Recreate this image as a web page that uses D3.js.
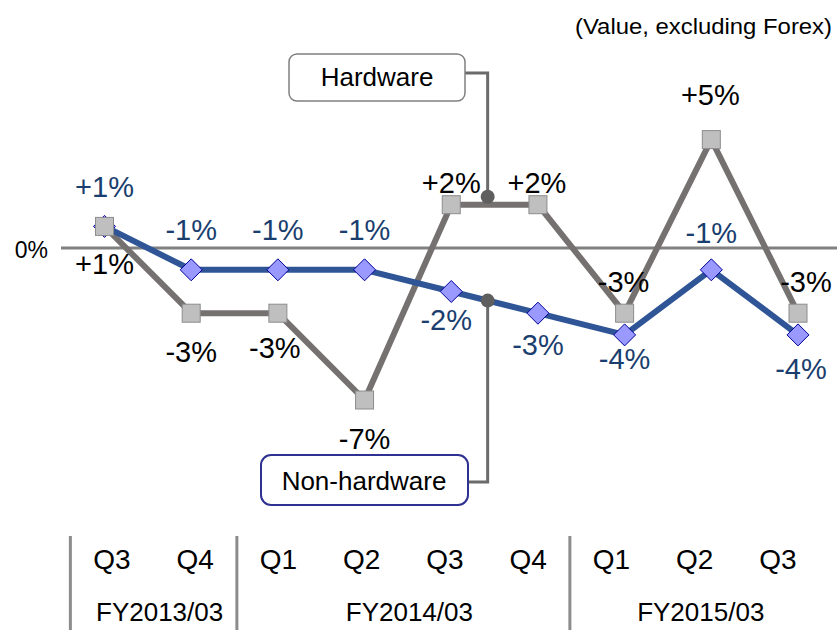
<!DOCTYPE html>
<html>
<head>
<meta charset="utf-8">
<script src="https://cdn.jsdelivr.net/npm/d3@7"></script>
<style>
  body { margin: 0; background: #fff; }
  text { font-family: "Liberation Sans", Arial, sans-serif; }
</style>
</head>
<body>
<div id="chart"></div>
<script>
// data
var quarters = ["Q3", "Q4", "Q1", "Q2", "Q3 ", "Q4 ", "Q1 ", "Q2 ", "Q3  "];
var fiscalYears = ["FY2013/03", "FY2014/03", "FY2015/03"];
var yearQuarterCount = [2, 4, 3];
var hardware = [1, -3, -3, -7, 2, 2, -3, 5, -3];
var nonHardware = [1, -1, -1, -1, -2, -3, -4, -1, -4];

var width = 837, height = 630;

var svg = d3.select("#chart")
  .append("svg")
    .attr("width", width)
    .attr("height", height);

// scales
var x = d3.scalePoint()
  .domain(quarters)
  .range([104.5, 798]);

var y = d3.scaleLinear()
  .domain([-7, 5])
  .range([400, 139.6]);

// axis labels sit on their own spacing under the plot
var xAxisPos = d3.scalePoint()
  .domain(quarters)
  .range([112, 778]);

function pct(v) { return (v > 0 ? "+" : "") + v + "%"; }

// note top right
svg.append("text")
  .attr("x", 832)
  .attr("y", 34)
  .attr("text-anchor", "end")
  .attr("textLength", 257)
  .attr("lengthAdjust", "spacingAndGlyphs")
  .style("font-size", "22px")
  .text("(Value, excluding Forex)");

// zero line
svg.append("line")
  .attr("x1", 61).attr("x2", width)
  .attr("y1", y(0)).attr("y2", y(0))
  .attr("stroke", "#808080")
  .attr("stroke-width", 3);

svg.append("text")
  .attr("x", 48)
  .attr("y", y(0) + 10)
  .attr("text-anchor", "end")
  .style("font-size", "23px")
  .text("0%");

// callout connectors
var step = x.step();
var hwDot = { x: x(quarters[4]) + step * 0.42, y: y(2) - 8 };
var nhDot = { x: x(quarters[4]) + step * 0.42 };
nhDot.y = y(nonHardware[4]) + (y(nonHardware[5]) - y(nonHardware[4])) * 0.42;

svg.append("path")
  .attr("d", "M464," + 73 + "H" + hwDot.x + "V" + hwDot.y)
  .attr("fill", "none")
  .attr("stroke", "#6b6b6b")
  .attr("stroke-width", 3);

svg.append("path")
  .attr("d", "M468," + 482 + "H" + nhDot.x + "V" + nhDot.y)
  .attr("fill", "none")
  .attr("stroke", "#6b6b6b")
  .attr("stroke-width", 3);

// callout boxes
svg.append("rect")
  .attr("x", 289).attr("y", 54)
  .attr("width", 176).attr("height", 47)
  .attr("rx", 8)
  .attr("fill", "#fff")
  .attr("stroke", "#808080")
  .attr("stroke-width", 1.5);
svg.append("text")
  .attr("x", 377).attr("y", 86)
  .attr("text-anchor", "middle")
  .style("font-size", "26px")
  .text("Hardware");

svg.append("rect")
  .attr("x", 261).attr("y", 455)
  .attr("width", 207).attr("height", 50)
  .attr("rx", 10)
  .attr("fill", "#fff")
  .attr("stroke", "#2e3192")
  .attr("stroke-width", 2);
svg.append("text")
  .attr("x", 364).attr("y", 490)
  .attr("text-anchor", "middle")
  .style("font-size", "26px")
  .text("Non-hardware");

// lines
var line = d3.line()
  .x(function(d, i) { return x(quarters[i]); })
  .y(function(d) { return y(d); });

svg.append("path")
  .datum(hardware)
  .attr("d", line)
  .attr("fill", "none")
  .attr("stroke", "#767171")
  .attr("stroke-width", 6)
  .attr("stroke-linejoin", "round");

svg.append("path")
  .datum(nonHardware)
  .attr("d", line)
  .attr("fill", "none")
  .attr("stroke", "#2f5597")
  .attr("stroke-width", 6)
  .attr("stroke-linejoin", "round");

// markers
svg.selectAll(".diamond")
  .data(nonHardware)
  .enter()
  .append("path")
    .attr("class", "diamond")
    .attr("transform", function(d, i) { return "translate(" + x(quarters[i]) + "," + y(d) + ")"; })
    .attr("d", "M0,-11L11,0L0,11L-11,0Z")
    .attr("fill", "#9999ff")
    .attr("stroke", "#000099")
    .attr("stroke-width", 1);

svg.selectAll(".square")
  .data(hardware)
  .enter()
  .append("rect")
    .attr("class", "square")
    .attr("x", function(d, i) { return x(quarters[i]) - 9; })
    .attr("y", function(d) { return y(d) - 9; })
    .attr("width", 18)
    .attr("height", 18)
    .attr("fill", "#bfbfbf")
    .attr("stroke", "#8c8c8c")
    .attr("stroke-width", 1);

// callout dots
svg.append("circle")
  .attr("cx", hwDot.x).attr("cy", hwDot.y)
  .attr("r", 7)
  .attr("fill", "#5f5f5f");
svg.append("circle")
  .attr("cx", nhDot.x).attr("cy", nhDot.y)
  .attr("r", 7)
  .attr("fill", "#5f5f5f");

// value labels, nudged off each marker
var hwDx = [0, 0, -3, 0, 0, -1, -1, -1, 8];
var hwDy = [48, 49, 45, 49, -12, -12, -21, -35, -21];
var nhDx = [0, 0, 0, 0, -5, 0, 0, 0, 3];
var nhDy = [-29, -30, -30, -30, 38, 42, 34, -27, 44];

svg.selectAll(".hwLabel")
  .data(hardware)
  .enter()
  .append("text")
    .attr("class", "hwLabel")
    .attr("x", function(d, i) { return x(quarters[i]) + hwDx[i]; })
    .attr("y", function(d, i) { return y(d) + hwDy[i]; })
    .attr("text-anchor", "middle")
    .style("font-size", "29px")
    .style("fill", "#000")
    .text(pct);

svg.selectAll(".nhLabel")
  .data(nonHardware)
  .enter()
  .append("text")
    .attr("class", "nhLabel")
    .attr("x", function(d, i) { return x(quarters[i]) + nhDx[i]; })
    .attr("y", function(d, i) { return y(d) + nhDy[i]; })
    .attr("text-anchor", "middle")
    .style("font-size", "29px")
    .style("fill", "#1a3e6e")
    .text(pct);

// category axis: quarters, fiscal years, separators
svg.selectAll(".qLabel")
  .data(quarters)
  .enter()
  .append("text")
    .attr("class", "qLabel")
    .attr("x", function(d) { return xAxisPos(d); })
    .attr("y", 569)
    .attr("text-anchor", "middle")
    .style("font-size", "28px")
    .text(function(d) { return d.trim(); });

var aStep = xAxisPos.step();
var start = 0;
var groups = fiscalYears.map(function(fy, i) {
  var first = quarters[start], last = quarters[start + yearQuarterCount[i] - 1];
  start += yearQuarterCount[i];
  return { name: fy, x0: xAxisPos(first) - aStep / 2, mid: (xAxisPos(first) + xAxisPos(last)) / 2 };
});

svg.selectAll(".sep")
  .data(groups)
  .enter()
  .append("line")
    .attr("class", "sep")
    .attr("x1", function(d) { return d.x0; })
    .attr("x2", function(d) { return d.x0; })
    .attr("y1", 536)
    .attr("y2", height)
    .attr("stroke", "#8c8c8c")
    .attr("stroke-width", 3);

svg.selectAll(".fyLabel")
  .data(groups)
  .enter()
  .append("text")
    .attr("class", "fyLabel")
    .attr("x", function(d) { return d.mid + 6; })
    .attr("y", 621)
    .attr("text-anchor", "middle")
    .style("font-size", "26px")
    .text(function(d) { return d.name; });
</script>
</body>
</html>
